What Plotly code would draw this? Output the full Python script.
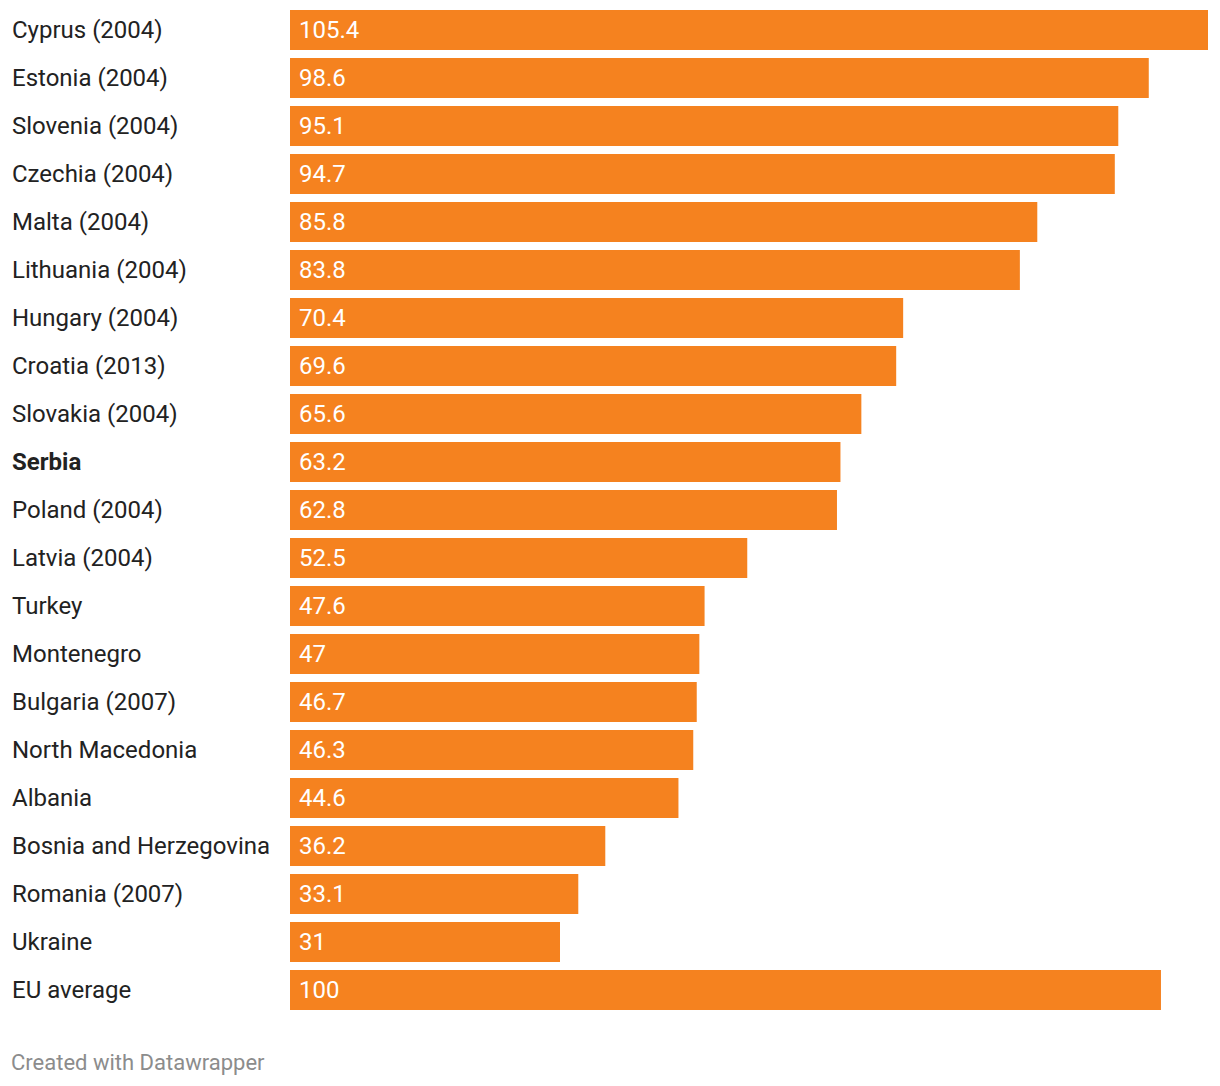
import plotly.graph_objects as go

countries = ["Cyprus (2004)", "Estonia (2004)", "Slovenia (2004)", "Czechia (2004)", "Malta (2004)",
             "Lithuania (2004)", "Hungary (2004)", "Croatia (2013)", "Slovakia (2004)", "Serbia",
             "Poland (2004)", "Latvia (2004)", "Turkey", "Montenegro", "Bulgaria (2007)",
             "North Macedonia", "Albania", "Bosnia and Herzegovina", "Romania (2007)", "Ukraine",
             "EU average"]
values = [105.4, 98.6, 95.1, 94.7, 85.8, 83.8, 70.4, 69.6, 65.6, 63.2, 62.8, 52.5, 47.6, 47,
          46.7, 46.3, 44.6, 36.2, 33.1, 31, 100]
value_labels = ["105.4", "98.6", "95.1", "94.7", "85.8", "83.8", "70.4", "69.6", "65.6", "63.2",
                "62.8", "52.5", "47.6", "47", "46.7", "46.3", "44.6", "36.2", "33.1", "31", "100"]
highlight = "Serbia"

# page has an 8px body margin, so the figure is 8px smaller than the window
W, H = 1212, 1078
ML, MR, MT, MB = 282, 12, 0, 72
plot_w = W - ML - MR
plot_h = H - MT - MB
ROW = 48.0
FONT = "Roboto"
ORANGE = "#f5821f"

fig = go.Figure(go.Bar(
    x=values, y=countries, orientation="h",
    marker=dict(color=ORANGE, line=dict(width=0)),
    hoverinfo="skip",
))

annotations = []
for c, v, t in zip(countries, values, value_labels):
    label = f"<b>{c}</b>" if c == highlight else c
    annotations.append(dict(
        x=(2 - ML) / plot_w, xref="paper", y=c, yref="y",
        text=label, showarrow=False, xanchor="left", yanchor="middle",
        font=dict(family=FONT, size=24, color="#222222"),
    ))
    annotations.append(dict(
        x=0, xref="x", y=c, yref="y", xshift=7,
        text=t, showarrow=False, xanchor="left", yanchor="middle",
        font=dict(family=FONT, size=24, color="white"),
    ))
annotations.append(dict(
    x=(1 - ML) / plot_w, xref="paper", y=-(1054 - (H - MB)) / plot_h, yref="paper",
    text="Created with Datawrapper", showarrow=False, xanchor="left", yanchor="middle",
    font=dict(family=FONT, size=22, color="#8c8c8c"),
))

top = -(22.0 / ROW)
bottom = len(countries) - 1 + 24.0 / ROW

fig.update_layout(
    width=W, height=H,
    margin=dict(l=ML, r=MR, t=MT, b=MB, pad=0),
    paper_bgcolor="white", plot_bgcolor="white",
    bargap=8 / 48,
    showlegend=False,
    xaxis=dict(range=[0, max(values)], visible=False, fixedrange=True),
    yaxis=dict(range=[bottom, top], showticklabels=False, showgrid=False, zeroline=False,
               fixedrange=True),
    annotations=annotations,
)

fig.write_html("out.html")
